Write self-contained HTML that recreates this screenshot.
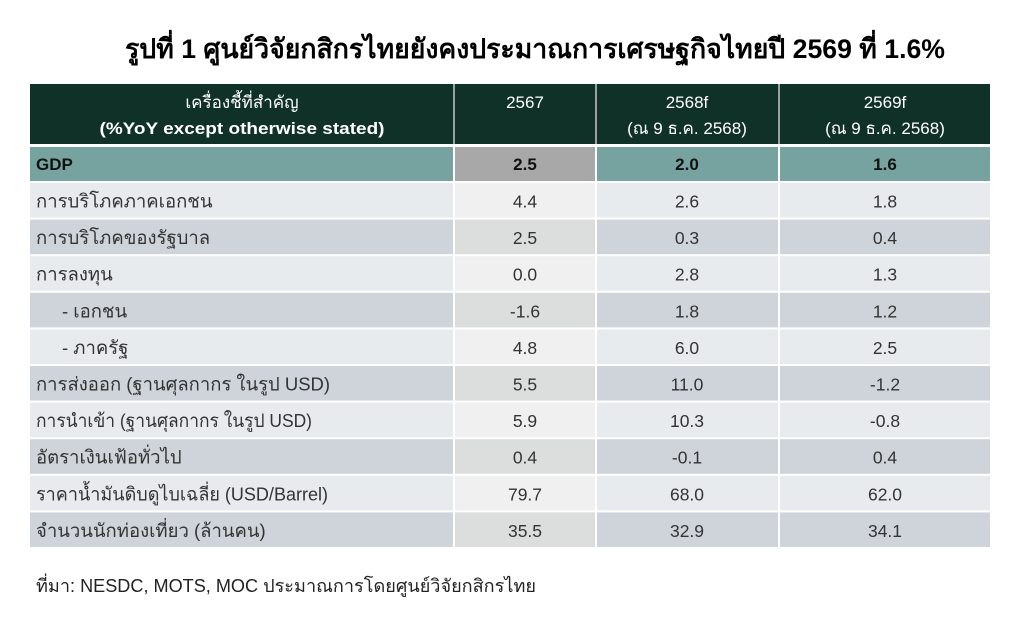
<!DOCTYPE html>
<html><head><meta charset="utf-8">
<style>
html,body{margin:0;padding:0;background:#fff;}
svg{display:block;}
text{font-family:"Liberation Sans","DejaVu Sans",sans-serif;}
</style></head>
<body>
<svg width="1024" height="628" viewBox="0 0 1024 628" xmlns="http://www.w3.org/2000/svg">
<rect width="1024" height="628" fill="#fff"/>
<text x="125" y="58" font-size="27" font-weight="bold" fill="#000" textLength="820" lengthAdjust="spacingAndGlyphs">รูปที่ 1 ศูนย์วิจัยกสิกรไทยยังคงประมาณการเศรษฐกิจไทยปี 2569 ที่ 1.6%</text>

<rect x="30" y="84" width="960" height="60" fill="#0f3127"/>
<line x1="454" y1="84" x2="454" y2="144" stroke="#c8c8c8" stroke-width="1.5"/>
<line x1="596" y1="84" x2="596" y2="144" stroke="#c8c8c8" stroke-width="1.5"/>
<line x1="779" y1="84" x2="779" y2="144" stroke="#c8c8c8" stroke-width="1.5"/>
<g fill="#fff" font-size="17" text-anchor="middle">
<text x="242" y="108">เครื่องชี้ที่สำคัญ</text>
<text x="242" y="134" textLength="285" lengthAdjust="spacingAndGlyphs" font-weight="bold">(%YoY except otherwise stated)</text>
<text x="525" y="108">2567</text>
<text x="687" y="108">2568f</text>
<text x="687" y="134">(ณ 9 ธ.ค. 2568)</text>
<text x="885" y="108">2569f</text>
<text x="885" y="134">(ณ 9 ธ.ค. 2568)</text>
</g>

<rect x="30" y="147" width="423" height="34" fill="#76a3a0"/>
<rect x="455" y="147" width="140" height="34" fill="#a8a8a8"/>
<rect x="597" y="147" width="181" height="34" fill="#76a3a0"/>
<rect x="780" y="147" width="210" height="34" fill="#76a3a0"/>
<g font-size="17" font-weight="bold" fill="#111">
<text x="36" y="170">GDP</text>
<text x="525" y="170" text-anchor="middle">2.5</text>
<text x="687" y="170" text-anchor="middle">2.0</text>
<text x="885" y="170" text-anchor="middle">1.6</text>
</g>

<g>
<rect x="30" y="183" width="423" height="34.6" fill="#e8ebee"/><rect x="455" y="183" width="140" height="34.6" fill="#f0f0f0"/><rect x="597" y="183" width="181" height="34.6" fill="#e8ebee"/><rect x="780" y="183" width="210" height="34.6" fill="#e8ebee"/>
<rect x="30" y="219.6" width="423" height="34.6" fill="#cfd4da"/><rect x="455" y="219.6" width="140" height="34.6" fill="#dcdddd"/><rect x="597" y="219.6" width="181" height="34.6" fill="#cfd4da"/><rect x="780" y="219.6" width="210" height="34.6" fill="#cfd4da"/>
<rect x="30" y="256.2" width="423" height="34.6" fill="#e8ebee"/><rect x="455" y="256.2" width="140" height="34.6" fill="#f0f0f0"/><rect x="597" y="256.2" width="181" height="34.6" fill="#e8ebee"/><rect x="780" y="256.2" width="210" height="34.6" fill="#e8ebee"/>
<rect x="30" y="292.8" width="423" height="34.6" fill="#cfd4da"/><rect x="455" y="292.8" width="140" height="34.6" fill="#dcdddd"/><rect x="597" y="292.8" width="181" height="34.6" fill="#cfd4da"/><rect x="780" y="292.8" width="210" height="34.6" fill="#cfd4da"/>
<rect x="30" y="329.4" width="423" height="34.6" fill="#e8ebee"/><rect x="455" y="329.4" width="140" height="34.6" fill="#f0f0f0"/><rect x="597" y="329.4" width="181" height="34.6" fill="#e8ebee"/><rect x="780" y="329.4" width="210" height="34.6" fill="#e8ebee"/>
<rect x="30" y="366" width="423" height="34.6" fill="#cfd4da"/><rect x="455" y="366" width="140" height="34.6" fill="#dcdddd"/><rect x="597" y="366" width="181" height="34.6" fill="#cfd4da"/><rect x="780" y="366" width="210" height="34.6" fill="#cfd4da"/>
<rect x="30" y="402.6" width="423" height="34.6" fill="#e8ebee"/><rect x="455" y="402.6" width="140" height="34.6" fill="#f0f0f0"/><rect x="597" y="402.6" width="181" height="34.6" fill="#e8ebee"/><rect x="780" y="402.6" width="210" height="34.6" fill="#e8ebee"/>
<rect x="30" y="439.2" width="423" height="34.6" fill="#cfd4da"/><rect x="455" y="439.2" width="140" height="34.6" fill="#dcdddd"/><rect x="597" y="439.2" width="181" height="34.6" fill="#cfd4da"/><rect x="780" y="439.2" width="210" height="34.6" fill="#cfd4da"/>
<rect x="30" y="475.8" width="423" height="34.6" fill="#e8ebee"/><rect x="455" y="475.8" width="140" height="34.6" fill="#f0f0f0"/><rect x="597" y="475.8" width="181" height="34.6" fill="#e8ebee"/><rect x="780" y="475.8" width="210" height="34.6" fill="#e8ebee"/>
<rect x="30" y="512.4" width="423" height="34.6" fill="#cfd4da"/><rect x="455" y="512.4" width="140" height="34.6" fill="#dcdddd"/><rect x="597" y="512.4" width="181" height="34.6" fill="#cfd4da"/><rect x="780" y="512.4" width="210" height="34.6" fill="#cfd4da"/>
</g>

<g font-size="18.5" fill="#333">
<text x="36" y="207.5">การบริโภคภาคเอกชน</text>
<text x="36" y="244">การบริโภคของรัฐบาล</text>
<text x="36" y="280.7">การลงทุน</text>
<text x="62" y="317.3">- เอกชน</text>
<text x="62" y="354">- ภาครัฐ</text>
<text x="36" y="390.5" textLength="294" lengthAdjust="spacingAndGlyphs">การส่งออก (ฐานศุลกากร ในรูป USD)</text>
<text x="36" y="427" textLength="276" lengthAdjust="spacingAndGlyphs">การนำเข้า (ฐานศุลกากร ในรูป USD)</text>
<text x="36" y="463.7">อัตราเงินเฟ้อทั่วไป</text>
<text x="36" y="500.3" textLength="292" lengthAdjust="spacingAndGlyphs">ราคาน้ำมันดิบดูไบเฉลี่ย (USD/Barrel)</text>
<text x="36" y="537">จำนวนนักท่องเที่ยว (ล้านคน)</text>
</g>
<g font-size="17.5" fill="#333" text-anchor="middle">
<text x="525" y="207.5">4.4</text><text x="687" y="207.5">2.6</text><text x="885" y="207.5">1.8</text>
<text x="525" y="244">2.5</text><text x="687" y="244">0.3</text><text x="885" y="244">0.4</text>
<text x="525" y="280.7">0.0</text><text x="687" y="280.7">2.8</text><text x="885" y="280.7">1.3</text>
<text x="525" y="317.3">-1.6</text><text x="687" y="317.3">1.8</text><text x="885" y="317.3">1.2</text>
<text x="525" y="354">4.8</text><text x="687" y="354">6.0</text><text x="885" y="354">2.5</text>
<text x="525" y="390.5">5.5</text><text x="687" y="390.5">11.0</text><text x="885" y="390.5">-1.2</text>
<text x="525" y="427">5.9</text><text x="687" y="427">10.3</text><text x="885" y="427">-0.8</text>
<text x="525" y="463.7">0.4</text><text x="687" y="463.7">-0.1</text><text x="885" y="463.7">0.4</text>
<text x="525" y="500.3">79.7</text><text x="687" y="500.3">68.0</text><text x="885" y="500.3">62.0</text>
<text x="525" y="537">35.5</text><text x="687" y="537">32.9</text><text x="885" y="537">34.1</text>
</g>

<text x="36" y="592" font-size="18" fill="#222" textLength="500" lengthAdjust="spacingAndGlyphs">ที่มา: NESDC, MOTS, MOC ประมาณการโดยศูนย์วิจัยกสิกรไทย</text>
</svg>
</body></html>
